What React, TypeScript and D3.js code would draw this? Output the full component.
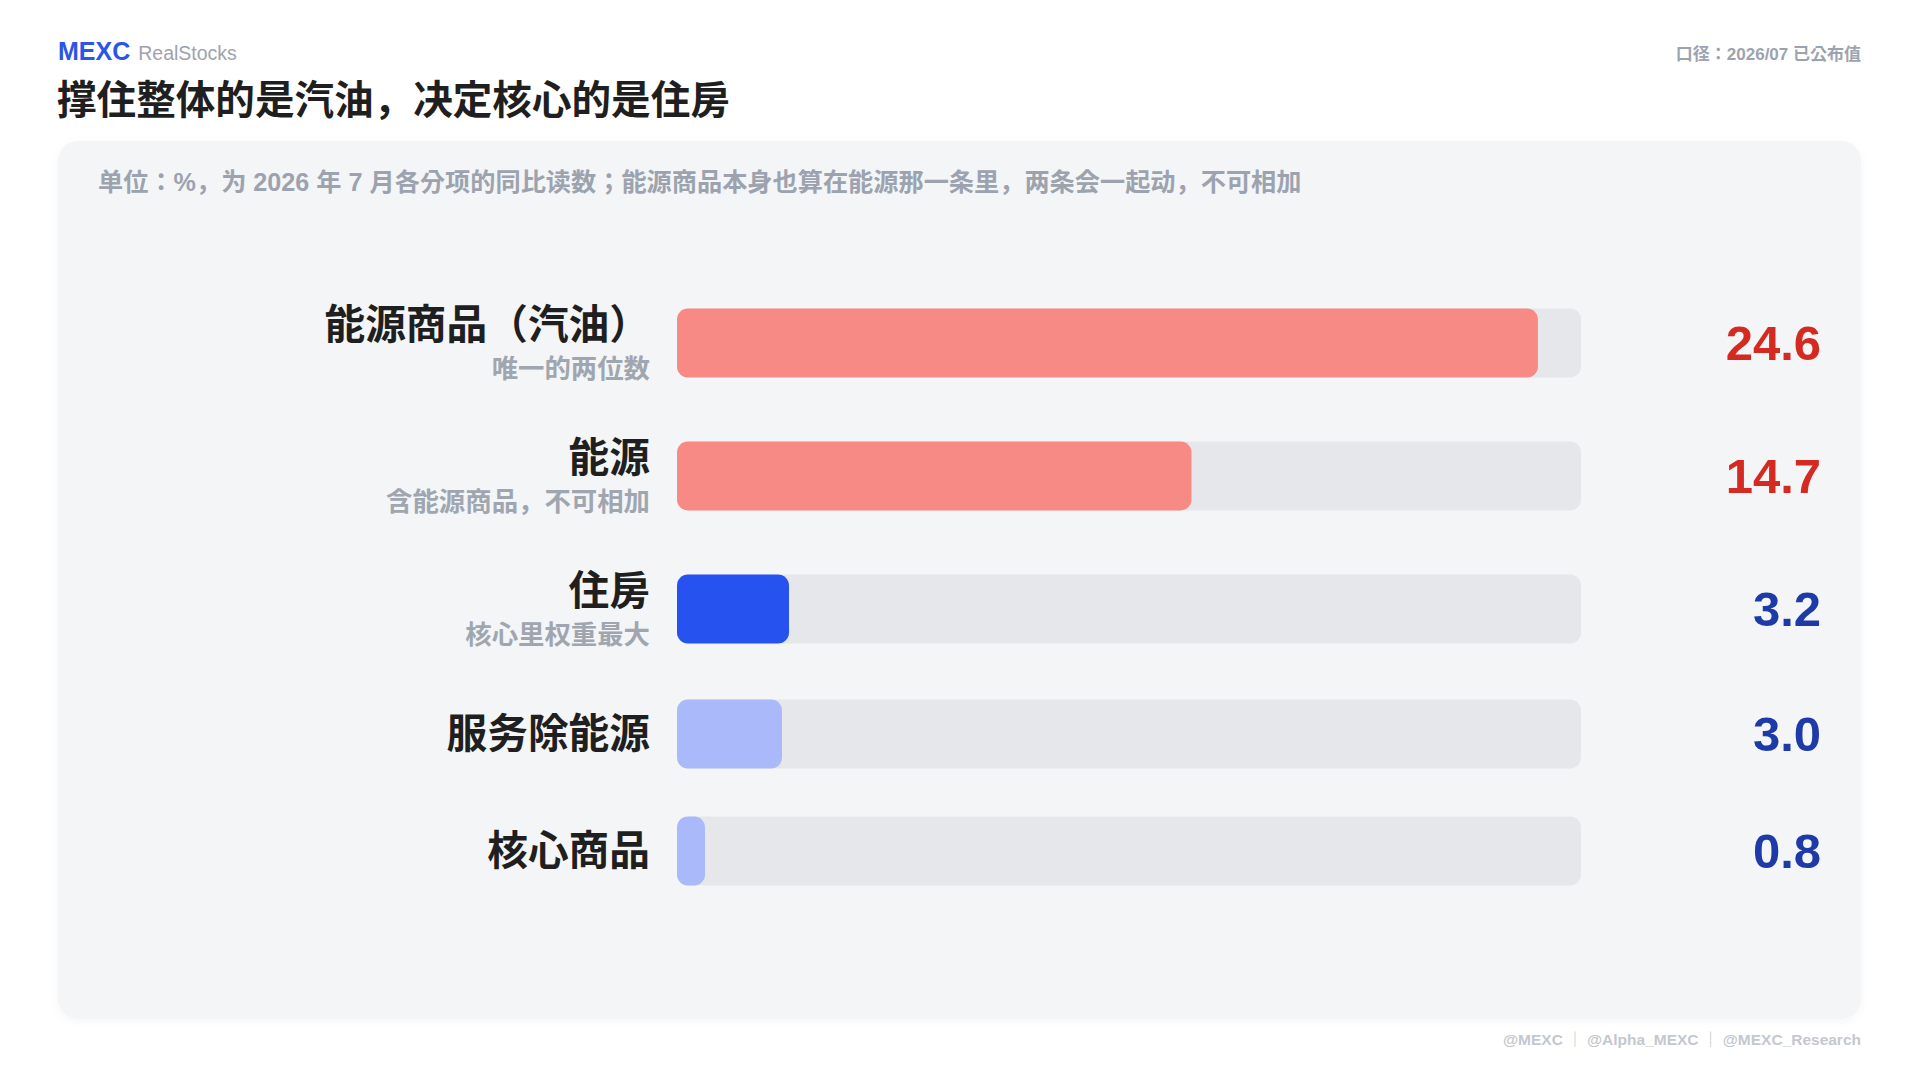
import React from "react";
import * as d3 from "d3";

const categories = ["能源商品（汽油）", "能源", "住房", "服务除能源", "核心商品"];
const subLabels = ["唯一的两位数", "含能源商品，不可相加", "核心里权重最大", "", ""];
const values = [24.6, 14.7, 3.2, 3.0, 0.8];
const groups = ["energy", "energy", "housing", "core", "core"];

const title = "撑住整体的是汽油，决定核心的是住房";
const subtitle = "单位：%，为 2026 年 7 月各分项的同比读数；能源商品本身也算在能源那一条里，两条会一起动，不可相加";
const caliber = "口径：2026/07 已公布值";
const footer = "@MEXC  ｜  @Alpha_MEXC  ｜  @MEXC_Research";

const W = 1920;
const H = 1080;
const FONT = "'Liberation Sans', Arial, 'Noto Sans CJK KR', sans-serif";

const barColor: Record<string, string> = {
  energy: "#F88A86",
  housing: "#2653F0",
  core: "#A9B9FA",
};
const valueColor: Record<string, string> = {
  energy: "#D42A22",
  housing: "#1E3AA8",
  core: "#1E3AA8",
};

export default function App() {
  const panel = { x: 58, y: 141, w: 1803, h: 878 };
  const trackX0 = 677;
  const trackX1 = 1581;
  const barH = 69;
  const rowHSub = 85;
  const rowHPlain = 69;
  const gap = 48;
  const firstTop = 300.5;

  const x = d3
    .scaleLinear()
    .domain([0, (d3.max(values) as number) * 1.05])
    .range([trackX0, trackX1]);

  const rows: { cy: number; h: number }[] = [];
  let top = firstTop;
  categories.forEach((_, i) => {
    const h = subLabels[i] ? rowHSub : rowHPlain;
    rows.push({ cy: top + h / 2, h });
    top += h + gap;
  });

  return (
    <div style={{ position: "absolute", left: 0, top: 0, width: W, height: H }}>
      <svg width={W} height={H} style={{ display: "block", fontFamily: FONT }}>
        <defs>
          <filter id="sh" x="-5%" y="-5%" width="110%" height="110%">
            <feDropShadow dx="0" dy="2" stdDeviation="4" floodColor="#000" floodOpacity="0.04" />
          </filter>
        </defs>
        <rect width={W} height={H} fill="#ffffff" />
        <text x={58} y={60} fontSize={25} fontWeight={700} fill="#2B55E6">
          MEXC
          <tspan dx={8} fontSize={19.5} fontWeight={400} fill="#9CA3AF">RealStocks</tspan>
        </text>
        <text x={1861} y={60} fontSize={17} fontWeight={700} fill="#9CA3AF" textAnchor="end">
          {caliber}
        </text>
        <text x={57} y={114} fontSize={39.6} fontWeight={700} fill="#1F1F1F">
          {title}
        </text>

        <rect x={panel.x} y={panel.y} width={panel.w} height={panel.h} rx={20} fill="#F3F5F7" filter="url(#sh)" />
        <text x={98} y={191} fontSize={25.2} fontWeight={700} fill="#9CA3AF">
          {subtitle}
        </text>

        {categories.map((c, i) => {
          const r = rows[i];
          const g = groups[i];
          const hasSub = !!subLabels[i];
          return (
            <g key={c}>
              <rect x={trackX0} y={r.cy - barH / 2} width={trackX1 - trackX0} height={barH} rx={11} fill="#E5E7EB" />
              <rect
                x={x(0)}
                y={r.cy - barH / 2}
                width={x(values[i]) - x(0)}
                height={barH}
                rx={11}
                fill={barColor[g]}
              />
              <text
                x={650}
                y={hasSub ? r.cy - 18 : r.cy}
                fontSize={40.7}
                fontWeight={700}
                fill="#1F1F1F"
                textAnchor="end"
                dominantBaseline="central"
              >
                {c}
              </text>
              {hasSub && (
                <text
                  x={650}
                  y={r.cy + 26}
                  fontSize={26.4}
                  fontWeight={700}
                  fill="#A0A6B0"
                  textAnchor="end"
                  dominantBaseline="central"
                >
                  {subLabels[i]}
                </text>
              )}
              <text
                x={1821}
                y={r.cy}
                fontSize={49}
                fontWeight={700}
                fill={valueColor[g]}
                textAnchor="end"
                dominantBaseline="central"
              >
                {values[i].toFixed(1)}
              </text>
            </g>
          );
        })}

        <text x={1861} y={1045} fontSize={15.5} fontWeight={700} fill="#C4C8CE" textAnchor="end">
          {footer}
        </text>
      </svg>
    </div>
  );
}
